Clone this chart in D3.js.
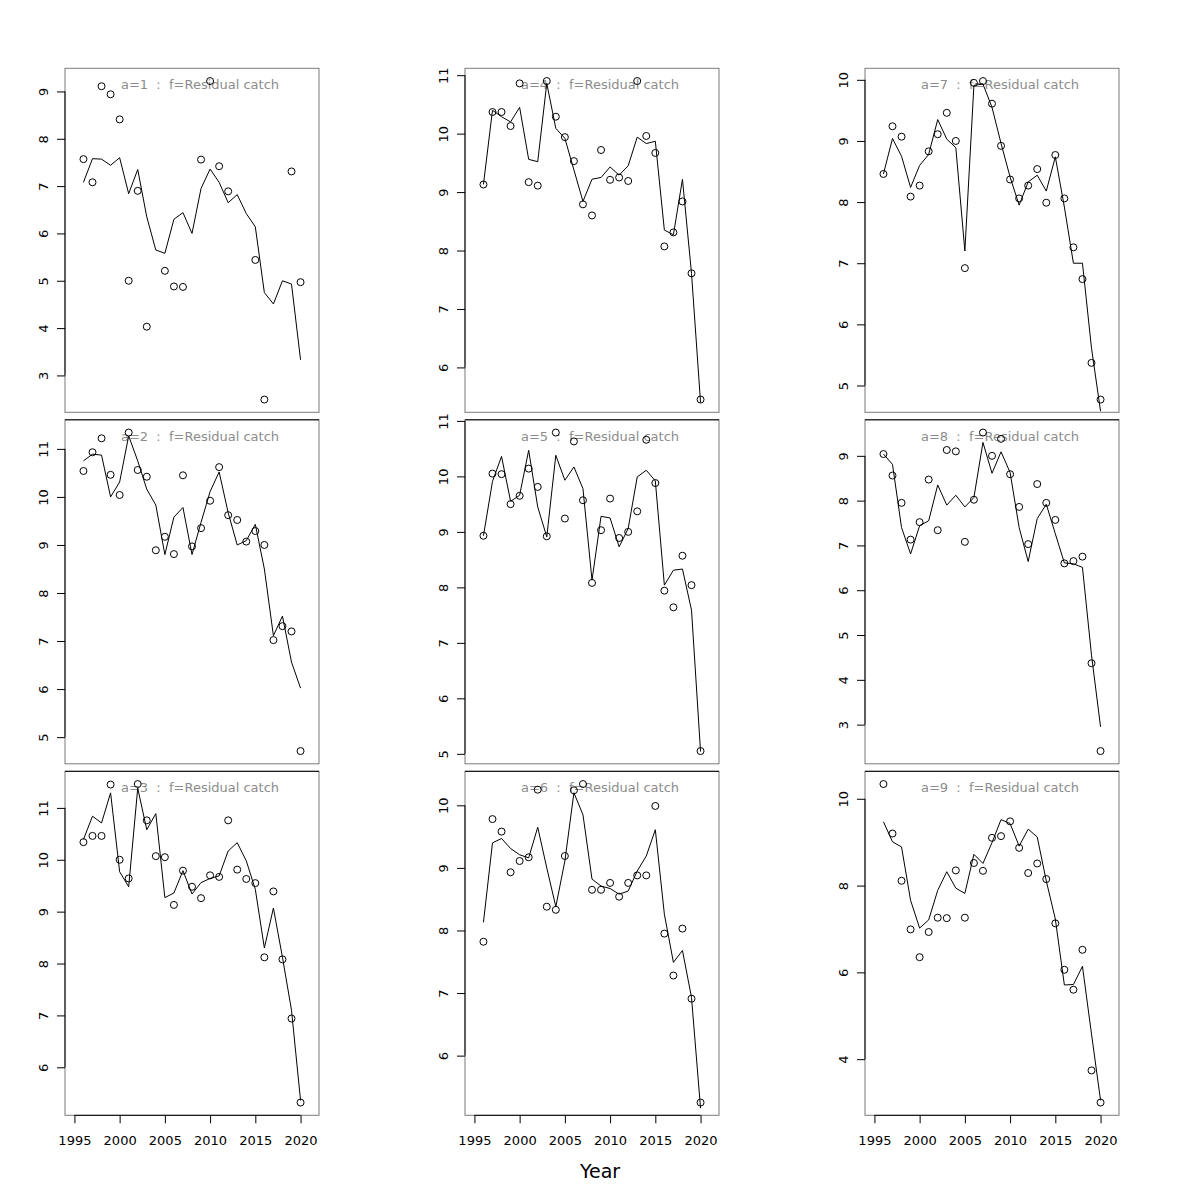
<!DOCTYPE html>
<html>
<head>
<meta charset="utf-8">
<script src="https://cdn.jsdelivr.net/npm/d3@7"></script>
<style>
  html, body { margin: 0; padding: 0; background: #ffffff; }
  svg { display: block; font-family: "DejaVu Sans", sans-serif; }
</style>
</head>
<body>
<svg id="chart" width="1200" height="1200"></svg>
<script>
// ---- data ----
const years = [1996,1997,1998,1999,2000,2001,2002,2003,2004,2005,2006,2007,2008,2009,2010,2011,2012,2013,2014,2015,2016,2017,2018,2019,2020];
const xTicks = [1995, 2000, 2005, 2010, 2015, 2020];
const xLabel = "Year";
const fleet = "Residual catch";

const obs1 = [7.57,7.08,9.11,8.94,8.41,5.00,6.90,4.03,null,5.21,4.88,4.87,null,7.56,9.22,7.42,6.89,null,null,5.44,2.49,null,null,7.31,4.97];
const fit1 = [7.08,7.58,7.57,7.44,7.60,6.84,7.35,6.35,5.65,5.58,6.30,6.44,6.00,6.95,7.36,7.08,6.65,6.82,6.42,6.14,4.75,4.51,5.00,4.93,3.33];
const ticks1 = [3,4,5,6,7,8,9];

const obs2 = [10.54,10.93,11.22,10.46,10.04,11.34,10.56,10.42,8.89,9.17,8.81,10.45,8.97,9.35,9.92,10.62,9.62,9.52,9.07,9.29,9.00,7.02,7.31,7.20,4.71];
const fit2 = [10.75,10.89,10.87,10.00,10.31,11.27,10.75,10.16,9.83,8.80,9.58,9.78,8.80,9.47,10.11,10.52,9.67,9.00,9.09,9.43,8.50,7.11,7.52,6.56,6.02];
const ticks2 = [5,6,7,8,9,10,11];

const obs3 = [10.34,10.46,10.46,11.45,10.00,9.64,11.46,10.76,10.07,10.05,9.13,9.79,9.48,9.26,9.70,9.67,10.76,9.81,9.63,9.55,8.12,9.39,8.08,6.94,5.32];
const fit3 = [10.39,10.84,10.71,11.29,9.77,9.48,11.38,10.58,10.89,9.27,9.36,9.79,9.34,9.56,9.64,9.69,10.17,10.33,9.98,9.43,8.30,9.07,8.12,7.10,5.36];
const ticks3 = [6,7,8,9,10,11];

const obs4 = [9.13,10.37,10.37,10.13,10.86,9.17,9.11,10.90,10.29,9.94,9.53,8.79,8.60,9.72,9.21,9.25,9.19,10.90,9.96,9.67,8.07,8.31,8.84,7.61,5.45];
const fit4 = [9.13,10.40,10.29,10.20,10.45,9.56,9.52,10.86,10.09,9.92,9.38,8.84,9.22,9.25,9.43,9.29,9.45,9.94,9.83,9.87,8.35,8.27,9.22,7.61,5.40];
const ticks4 = [6,7,8,9,10,11];

const obs5 = [8.93,10.05,10.04,9.50,9.65,10.14,9.81,8.92,10.79,9.24,10.63,9.57,8.08,9.03,9.60,8.89,9.00,9.37,10.66,9.88,7.94,7.64,8.57,8.04,5.05];
const fit5 = [8.93,9.91,10.36,9.55,9.66,10.47,9.45,8.91,10.38,9.93,10.17,9.78,8.13,9.28,9.25,8.73,9.06,9.99,10.11,9.92,8.04,8.31,8.33,7.59,5.04];
const ticks5 = [5,6,7,8,9,10,11];

const obs6 = [7.82,9.78,9.58,8.93,9.11,9.17,10.25,8.38,8.33,9.19,10.24,10.34,8.65,8.65,8.76,8.54,8.76,8.88,8.88,9.99,7.95,7.28,8.03,6.91,5.25];
const fit6 = [8.13,9.40,9.47,9.31,9.21,9.16,9.65,9.00,8.38,9.11,10.20,9.85,8.82,8.71,8.67,8.58,8.63,8.95,9.19,9.61,8.26,7.49,7.68,6.93,5.16];
const ticks6 = [6,7,8,9,10];

const obs7 = [8.46,9.24,9.07,8.09,8.27,8.83,9.11,9.46,9.00,6.92,9.95,9.98,9.61,8.92,8.37,8.06,8.27,8.54,7.99,8.77,8.06,7.26,6.74,5.37,4.77];
const fit7 = [8.46,9.04,8.75,8.24,8.60,8.78,9.35,9.03,8.89,7.20,9.91,9.93,9.55,8.96,8.41,7.95,8.33,8.44,8.18,8.74,7.92,7.00,7.00,5.61,4.58];
const ticks7 = [5,6,7,8,9,10];

const obs8 = [9.04,8.56,7.95,7.13,7.52,8.47,7.34,9.13,9.10,7.08,8.02,9.52,9.00,9.38,8.59,7.86,7.03,8.37,7.95,7.57,6.60,6.65,6.75,4.37,2.41];
const fit8 = [9.04,8.81,7.40,6.81,7.44,7.55,8.35,7.90,8.12,7.86,8.07,9.30,8.61,9.09,8.63,7.40,6.64,7.60,7.92,7.26,6.61,6.59,6.51,4.55,2.95];
const ticks8 = [3,4,5,6,7,8,9];

const obs9 = [10.34,9.20,8.11,6.99,6.35,6.93,7.26,7.25,8.35,7.26,8.52,8.34,9.10,9.14,9.48,8.87,8.29,8.51,8.15,7.13,6.06,5.60,6.52,3.74,3.00];
const fit9 = [9.47,9.01,8.89,7.66,7.02,7.21,7.89,8.32,7.94,7.82,8.72,8.51,8.99,9.52,9.43,8.91,9.30,9.12,8.11,7.23,5.71,5.72,6.14,4.58,3.05];
const ticks9 = [4,6,8,10];

const panels = [
  {a:1, obs:obs1, fit:fit1, ticks:ticks1},
  {a:2, obs:obs2, fit:fit2, ticks:ticks2},
  {a:3, obs:obs3, fit:fit3, ticks:ticks3},
  {a:4, obs:obs4, fit:fit4, ticks:ticks4},
  {a:5, obs:obs5, fit:fit5, ticks:ticks5},
  {a:6, obs:obs6, fit:fit6, ticks:ticks6},
  {a:7, obs:obs7, fit:fit7, ticks:ticks7},
  {a:8, obs:obs8, fit:fit8, ticks:ticks8},
  {a:9, obs:obs9, fit:fit9, ticks:ticks9}
];

// ---- layout ----
const svg = d3.select("#chart");
const W = 254, H = 344;
const colX = c => 65 + c * 400;
const rowY = r => 68.3 + r * 351.5;
const xDomain = [1993.96, 2022.04];

panels.forEach((p, i) => {
  const col = Math.floor(i / 3), row = i % 3;
  const left = colX(col), top = rowY(row);
  const g = svg.append("g").attr("transform", `translate(${left},${top})`);

  const x = d3.scaleLinear().domain(xDomain).range([0, W]);
  const vals = p.obs.filter(v => v != null);
  const [mn, mx] = d3.extent(vals);
  const pad = 0.04 * (mx - mn);
  const y = d3.scaleLinear().domain([mn - pad, mx + pad]).range([H, 0]);

  const clipId = "clip" + i;
  g.append("clipPath").attr("id", clipId)
    .append("rect").attr("x", 0).attr("y", 0).attr("width", W).attr("height", H);

  // box
  g.append("rect").attr("x", 0).attr("y", 0).attr("width", W).attr("height", H)
    .attr("fill", "none").attr("stroke", "#7a7a7a").attr("stroke-width", 1);
  if (row > 0) {
    g.append("line").attr("x1", 0).attr("x2", W).attr("y1", 0).attr("y2", 0)
      .attr("stroke", "#000").attr("stroke-width", 1);
  }

  // title text
  g.append("text")
    .attr("x", 135).attr("y", 21)
    .attr("text-anchor", "middle")
    .attr("font-size", 13)
    .attr("fill", "#8c8c8c")
    .attr("xml:space", "preserve")
    .style("white-space", "pre")
    .text(`a=${p.a}  :  f=${fleet}`);

  // fitted line
  const line = d3.line()
    .defined(d => d.v != null)
    .x(d => x(d.yr)).y(d => y(d.v));
  g.append("path")
    .datum(years.map((yr, k) => ({yr, v: p.fit[k]})))
    .attr("clip-path", `url(#${clipId})`)
    .attr("d", line)
    .attr("fill", "none").attr("stroke", "#000").attr("stroke-width", 1);

  // observed points
  g.selectAll("circle.obs")
    .data(years.map((yr, k) => ({yr, v: p.obs[k]})).filter(d => d.v != null))
    .join("circle")
    .attr("class", "obs")
    .attr("cx", d => x(d.yr)).attr("cy", d => y(d.v))
    .attr("r", 3.5)
    .attr("fill", "none").attr("stroke", "#000").attr("stroke-width", 1);

  // y axis
  const yAxis = d3.axisLeft(y).tickValues(p.ticks).tickSize(8).tickFormat(d3.format("d"));
  const ya = g.append("g").call(yAxis).attr("font-size", 13).attr("font-family", "DejaVu Sans, sans-serif");
  ya.select(".domain").attr("d", `M0,${y(p.ticks[0])}V${y(p.ticks[p.ticks.length-1])}`)
    .attr("stroke", "#000");
  ya.selectAll(".tick line").attr("stroke", "#000");
  ya.selectAll(".tick text")
    .attr("fill", "#000")
    .attr("x", null).attr("dy", null)
    .attr("text-anchor", "middle")
    .attr("transform", "translate(-17.5,0) rotate(-90)")
    .attr("y", 0);

  // x axis (bottom row only)
  if (row === 2) {
    const xAxis = d3.axisBottom(x).tickValues(xTicks).tickSize(8).tickFormat(d3.format("d"));
    const xa = g.append("g").attr("transform", `translate(0,${H})`).call(xAxis)
      .attr("font-size", 13).attr("font-family", "DejaVu Sans, sans-serif");
    xa.select(".domain").attr("d", `M${x(xTicks[0])},0H${x(xTicks[xTicks.length-1])}`)
      .attr("stroke", "#000");
    xa.selectAll(".tick line").attr("stroke", "#000");
    xa.selectAll(".tick text")
      .attr("fill", "#000").attr("y", 25.5).attr("dy", "0.32em");
  }
});

svg.append("text")
  .attr("x", 600).attr("y", 1178)
  .attr("text-anchor", "middle")
  .attr("font-size", 19)
  .attr("fill", "#000")
  .text(xLabel);
</script>
</body>
</html>
